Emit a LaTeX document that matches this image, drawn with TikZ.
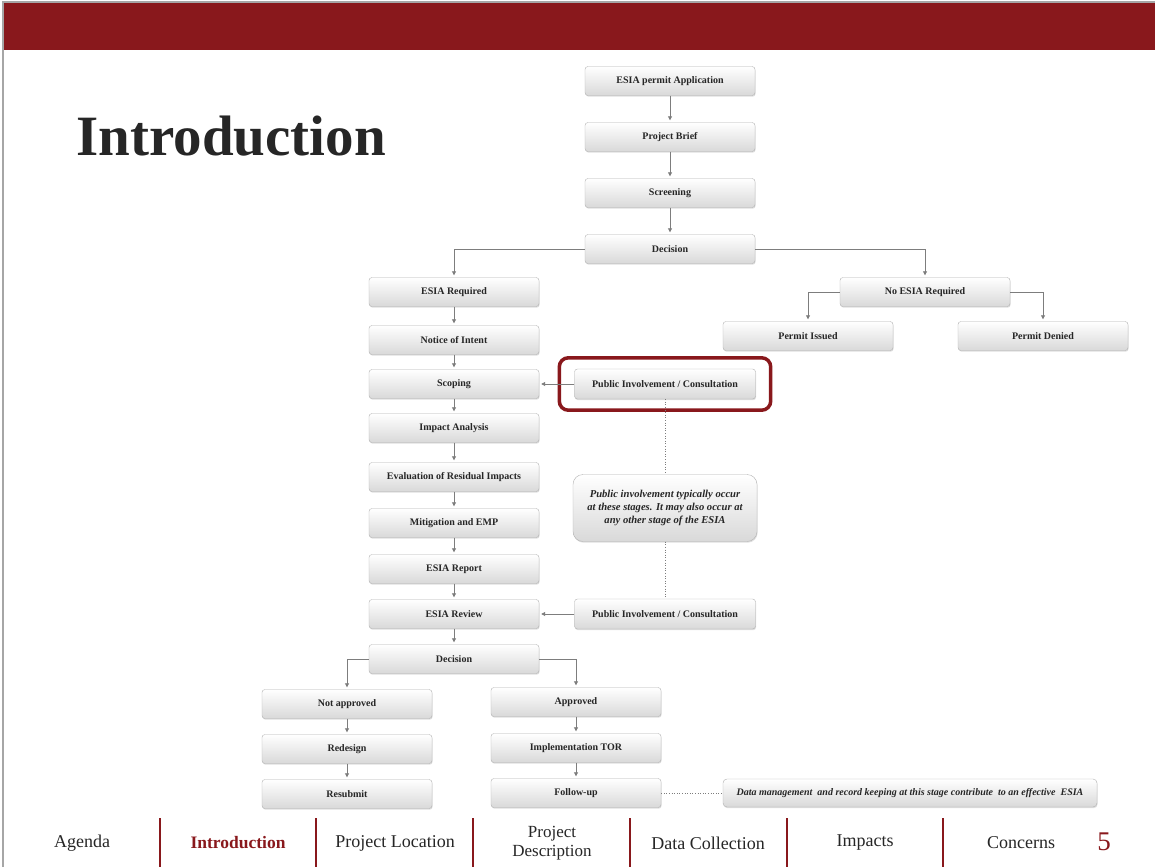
\documentclass[tikz,border=0pt]{standalone}
\usepackage{fontspec}
\setmainfont{Liberation Serif}
\usepackage{tikz}
\usetikzlibrary{shapes,arrows.meta,shadows,positioning,fit}

\definecolor{slidered}{RGB}{137,24,28}
\definecolor{boxline}{RGB}{178,178,178}
\definecolor{flowgray}{RGB}{125,125,125}
\definecolor{inktext}{RGB}{38,38,38}

\begin{document}
\begin{tikzpicture}[x=1pt,y=-1pt,>={Triangle[length=4pt,width=4pt]},font=\bfseries\fontsize{10}{12}\selectfont]
\tikzstyle{box}=[rectangle,rounded corners=3pt,draw=boxline,top color=white,bottom color=gray!30,minimum width=170pt,minimum height=29pt,inner sep=2pt,text=inktext,drop shadow={shadow xshift=0.6pt,shadow yshift=-1.2pt,opacity=0.25}]
\tikzstyle{wide}=[box,minimum width=181pt,minimum height=30pt]
\tikzstyle{remark}=[box,rounded corners=10pt,align=center,font=\bfseries\itshape\fontsize{10.6}{13}\selectfont]
\tikzstyle{flow}=[->,color=flowgray,line width=0.8pt,shorten >=2pt]
\tikzstyle{link}=[color=flowgray,dotted,line width=0.6pt]
\tikzstyle{tab}=[font=\fontsize{18}{18}\selectfont,text=inktext,align=center]

% slide background and header
\useasboundingbox (0,0) rectangle (1155,867);
\fill[white] (0,0) rectangle (1155,867);
\fill[slidered] (3,3) rectangle (1155,50);
\draw[gray!70,line width=1.5pt] (3,867) -- (3,2) -- (1155,2);
\node[anchor=base west,font=\bfseries\fontsize{57}{60}\selectfont,text=inktext] (title) at (73,155) {Introduction};

% screening stage
\node[box] (app) at (670,81) {ESIA permit Application};
\node[box] (brief) at (670,137) {Project Brief};
\node[box] (scr) at (670,193) {Screening};
\node[box] (dec) at (670,249) {Decision};

% no ESIA branch
\node[box] (noesia) at (925,292) {No ESIA Required};
\node[box] (issued) at (808,336) {Permit Issued};
\node[box] (denied) at (1043,336) {Permit Denied};

% ESIA branch
\node[box] (esreq) at (454,292) {ESIA Required};
\node[box] (intent) at (454,340) {Notice of Intent};
\node[box] (scop) at (454,384) {Scoping};
\node[box] (impact) at (454,428) {Impact Analysis};
\node[box] (resid) at (454,477) {Evaluation of Residual Impacts};
\node[box] (emp) at (454,523) {Mitigation and EMP};
\node[box] (report) at (454,569) {ESIA Report};
\node[box] (review) at (454,614) {ESIA Review};
\node[box] (dec2) at (454,659) {Decision};

% public involvement
\node[wide] (pi1) at (665,384) {Public Involvement / Consultation};
\node[remark,minimum width=184pt,minimum height=67pt] (pinote) at (665,508) {Public involvement typically occur\\at these stages. It may also occur at\\any other stage of the ESIA};
\node[wide] (pi2) at (665,614) {Public Involvement / Consultation};
\node[draw=slidered,line width=3.5pt,rounded corners=9pt,inner xsep=15pt,inner ysep=11pt,fit=(pi1)] (focus) {};

% outcome of the review
\node[box] (notok) at (347,704) {Not approved};
\node[box] (redesign) at (347,749) {Redesign};
\node[box] (resub) at (347,794) {Resubmit};
\node[box] (ok) at (576,702) {Approved};
\node[box] (tor) at (576,748) {Implementation TOR};
\node[box] (follow) at (576,793) {Follow-up};
\node[remark,minimum width=374pt,minimum height=28pt,rounded corners=4pt,font=\bfseries\itshape\fontsize{10}{12}\selectfont] (records) at (910,793) {Data management\ \ and record keeping at this stage contribute\ \ to an effective\ \ ESIA};

% connectors
\path[flow] (app) edge (brief)
            (brief) edge (scr)
            (scr) edge (dec)
            (esreq) edge (intent)
            (intent) edge (scop)
            (scop) edge (impact)
            (impact) edge (resid)
            (resid) edge (emp)
            (emp) edge (report)
            (report) edge (review)
            (review) edge (dec2)
            (pi1) edge (scop)
            (pi2) edge (review)
            (notok) edge (redesign)
            (redesign) edge (resub)
            (ok) edge (tor)
            (tor) edge (follow);
\draw[flow] (dec.west) -| (esreq.north);
\draw[flow] (dec.east) -| (noesia.north);
\draw[flow] (noesia.west) -| (issued.north);
\draw[flow] (noesia.east) -| (denied.north);
\draw[flow] (dec2.west) -| (notok.north);
\draw[flow] (dec2.east) -| (ok.north);
\draw[link] (pi1) -- (pinote) -- (pi2);
\draw[link] (follow) -- (records);

% navigation bar
\draw[slidered,line width=1.5pt] (160,818) -- (160,867);
\draw[slidered,line width=1.5pt] (316,818) -- (316,867);
\draw[slidered,line width=1.5pt] (473,818) -- (473,867);
\draw[slidered,line width=1.5pt] (630,818) -- (630,867);
\draw[slidered,line width=1.5pt] (787,818) -- (787,867);
\draw[slidered,line width=1.5pt] (943,818) -- (943,867);
\node[tab] (agenda) at (82,843) {Agenda};
\node[tab,text=slidered,font=\bfseries\fontsize{17.5}{18}\selectfont] (intro) at (238,843) {Introduction};
\node[tab] (location) at (395,843) {Project Location};
\node[tab,font=\fontsize{17}{19}\selectfont] (descr) at (552,843) {Project\\Description};
\node[tab] (datacoll) at (708,843) {Data Collection};
\node[tab] (impacts) at (865,843) {Impacts};
\node[tab] (concerns) at (1021,843) {Concerns};
\node[tab,text=slidered,font=\fontsize{27}{27}\selectfont] (pageno) at (1104,842) {5};
\end{tikzpicture}
\end{document}
